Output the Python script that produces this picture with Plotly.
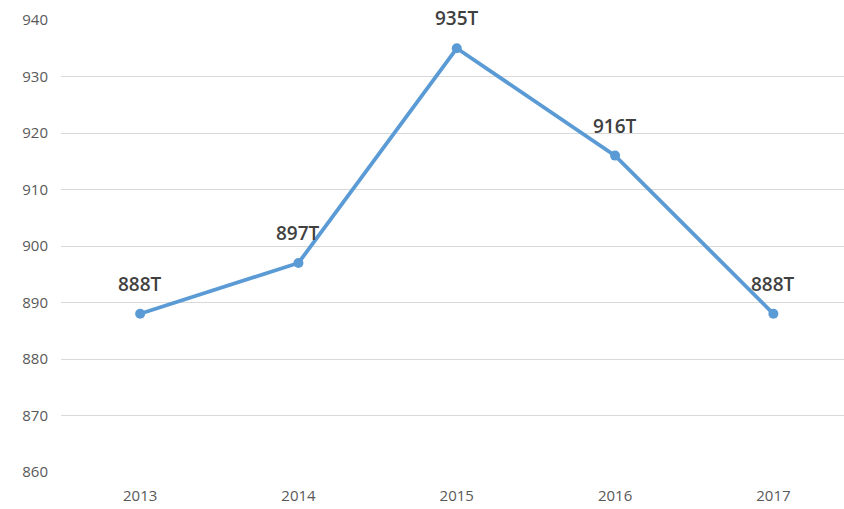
import plotly.graph_objects as go

years = ["2013", "2014", "2015", "2016", "2017"]
values = [888, 897, 935, 916, 888]
labels = ["888T", "897T", "935T", "916T", "888T"]
y_ticks = [860, 870, 880, 890, 900, 910, 920, 930, 940]

fig = go.Figure()
fig.add_trace(go.Scatter(
    x=years, y=values, mode="lines+markers",
    line=dict(color="#5B9BD5", width=3.8),
    marker=dict(color="#5B9BD5", size=10),
    cliponaxis=False, hoverinfo="skip",
))
for i, (yv, t) in enumerate(zip(values, labels)):
    fig.add_annotation(x=i, y=yv, xref="x", yref="y", text=t, showarrow=False, yshift=30,
                       font=dict(family="Open Sans", size=19, color="#404040", weight=600))

fig.update_layout(
    width=844, height=509,
    margin=dict(l=61, r=0, t=20, b=37),
    paper_bgcolor="white", plot_bgcolor="white",
    showlegend=False,
    font=dict(family="Open Sans", size=15, color="#595959"),
    xaxis=dict(type="category", range=[-0.5, 4.446], showgrid=False, showline=False,
               zeroline=False, ticks="", ticklabelstandoff=13,
               tickfont=dict(size=15, color="#595959")),
    yaxis=dict(range=[860, 940], tickvals=y_ticks, showgrid=True, gridcolor="#D9D9D9",
               gridwidth=1, zeroline=False, showline=False, ticks="",
               ticklabelstandoff=12, tickfont=dict(size=15, color="#595959")),
)
fig.write_html("out.html", config={"displayModeBar": False},
               post_script="document.body.style.margin='0';")
